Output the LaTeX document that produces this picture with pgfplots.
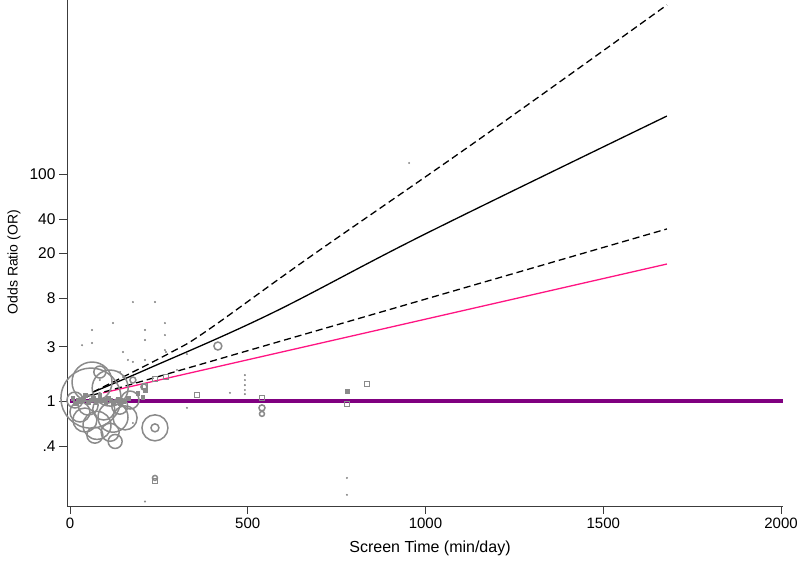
\documentclass[border=0pt]{standalone}
\usepackage{fontspec}
\setmainfont{Liberation Sans}
\usepackage{pgfplots}
\pgfplotsset{compat=1.18}
\definecolor{bub}{RGB}{138,138,138}
\definecolor{pinkline}{RGB}{255,20,130}
\definecolor{purp}{RGB}{128,0,128}
\definecolor{axc}{RGB}{60,60,60}
\begin{document}
\begin{tikzpicture}
\useasboundingbox (-67pt,-60pt) rectangle (730pt,506pt);
\begin{axis}[
  at={(0,0)}, anchor=south west,
  scale only axis, width=716pt, height=506pt,
  xmin=-8.4, xmax=2005.6,
  ymode=log, ymin=0.1188, ymax=3412,
  axis lines=left, axis line style={-, axc, line width=0.9pt},
  clip=false,
  tick align=outside, major tick length=8pt,
  tick style={axc, line width=0.9pt},
  xtick={0,500,1000,1500,2000}, xticklabels={0,500,1000,1500,2000},
  ytick={0.4,1,3,8,20,40,100}, yticklabels={.4,1,3,8,20,40,100},
  minor tick num=0, minor ytick={}, log ticks with fixed point,
  tick label style={font=\fontsize{15.5}{18}\selectfont},
  xticklabel style={yshift=-1pt, font=\fontsize{15}{18}\selectfont},
  xlabel={Screen Time (min/day)}, ylabel={Odds Ratio (OR)},
  xlabel style={font=\fontsize{16}{18}\selectfont, at={(axis description cs:0.507,-0.083)}, anchor=center},
  ylabel style={font=\fontsize{14}{18}\selectfont, at={(axis description cs:-0.074,0.482)}, anchor=center},
]
% reference line OR = 1
\addplot[purp, line width=4.5pt] coordinates {(0,1) (2005,1)};
% bubbles (circles)
\addplot[only marks, mark=o, line width=1.5pt,
  scatter, scatter/use mapped color={draw=bub},
  visualization depends on={\thisrow{r}\as\rr},
  scatter/@pre marker code/.append style={/tikz/mark size=\rr}] table {
x y r
59 1.06 30
62 1.47 20
113 1.30 18
42 0.68 12
76 0.61 14
121 0.72 15
28 0.80 10
113 0.53 9
127 0.44 7
155 0.71 12
169 1.02 9
239 0.58 13
239 0.58 4
416 3.05 4
540 0.87 3
540 0.77 2.5
239 0.21 2.5
177 1.53 3
208 1.33 3
84 1.80 6
14 1.02 8
51 0.92 10
95 0.85 11
140 0.90 8
70 0.50 8
};
% filled small squares
\addplot[only marks, mark=square*, mark size=1.8pt, bub] table {
x y
8 1.06
23 1.02
37 1.04
51 0.98
65 1.06
79 1.02
93 1.01
107 1.06
121 0.98
135 1.04
149 1.0
163 1.06
14 0.96
42 1.12
84 1.12
141 0.96
191 1.17
211 1.25
205 1.08
779 1.22
30 1.00
58 1.03
72 0.97
100 0.97
115 1.03
};
% hollow squares
\addplot[only marks, mark=square, mark size=2.2pt, line width=0.9pt, bub] table {
x y
357 1.13
540 1.06
779 0.94
835 1.41
239 0.197
239 1.56
270 1.63
211 1.36
};
% small dots
\addplot[only marks, mark=*, mark size=0.8pt, bub] table {
x y
62 4.22
62 3.24
121 4.86
149 2.70
177 7.45
239 7.45
211 4.22
211 3.45
211 2.30
267 4.86
267 3.81
267 2.81
177 2.21
270 2.70
329 2.59
301 1.88
450 1.18
329 0.87
177 0.64
211 0.13
492 1.69
492 1.53
492 1.38
492 1.25
492 1.15
779 0.21
779 0.149
954 125
34 3.1
84 1.53
141 1.8
163 2.3
};
% pink fitted line
\addplot[pinkline, line width=1.3pt] coordinates {(93,1.18) (1679,16.1)};
% solid fit
\addplot[black, line width=1.3pt, smooth, tension=0.6] coordinates {(65,1.20) (217,1.91) (563,5.84) (999,29.6) (1679,324)};
% upper CI
\addplot[black, line width=1.3pt, smooth, tension=0.6, dash pattern=on 7pt off 4pt] coordinates {(65,1.20) (281,2.65) (388,4.22) (675,18.6) (1148,199.3) (1679,3084)};
% lower CI
\addplot[black, line width=1.3pt, smooth, tension=0.6, dash pattern=on 7pt off 4pt] coordinates {(65,1.15) (245,1.63) (1679,32.8)};
\end{axis}
\end{tikzpicture}
\end{document}
